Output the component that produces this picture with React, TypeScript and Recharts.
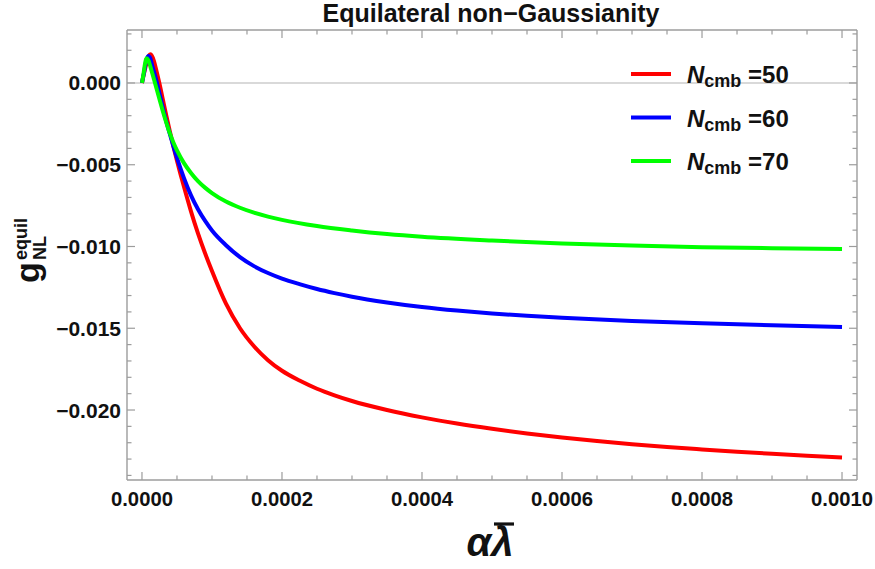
import React from "react";
import { LineChart, Line, XAxis, YAxis, ReferenceLine, Legend } from "recharts";

// axis ticks
const xMajorTicks = [0, 0.0002, 0.0004, 0.0006, 0.0008, 0.001];
const xTickLabels = ["0.0000", "0.0002", "0.0004", "0.0006", "0.0008", "0.0010"];
const yMajorTicks = [0, -0.005, -0.01, -0.015, -0.02];
const yTickLabels = ["0.000", "\u22120.005", "\u22120.010", "\u22120.015", "\u22120.020"];

// series: N_cmb = 50, 60, 70
const nCmbValues = [50, 60, 70];
const seriesColors = ["#ff0000", "#0000ff", "#00ff00"];

const redX = [
  0, 0.000003, 0.000007, 0.00001, 0.0000124, 0.000017, 0.00002, 0.000025, 0.00003, 0.000035, 0.00004,
  0.000045, 0.00005, 0.00006, 0.00007, 0.00008, 0.00009, 0.0001, 0.00012, 0.00014, 0.00016, 0.00018,
  0.0002, 0.000225, 0.00025, 0.000275, 0.0003, 0.00035, 0.0004, 0.00045, 0.0005, 0.00055, 0.0006,
  0.00065, 0.0007, 0.00075, 0.0008, 0.00085, 0.0009, 0.00095, 0.001,
];
const redY = [
  0, 0.0006, 0.0013, 0.00168, 0.00175, 0.00135, 0.00085, -0.00005, -0.00105, -0.00205, -0.003,
  -0.0039, -0.00475, -0.00635, -0.00785, -0.0092, -0.0104, -0.0115, -0.0135, -0.015, -0.0161, -0.01695,
  -0.0176, -0.0182, -0.0187, -0.0191, -0.01945, -0.02, -0.02045, -0.02083, -0.02115, -0.02143, -0.02168,
  -0.0219, -0.02209, -0.02226, -0.02241, -0.02255, -0.02268, -0.0228, -0.0229,
];

const blueX = [
  0, 0.000003, 0.000006, 0.000009, 0.000012, 0.000015, 0.00002, 0.000025, 0.00003, 0.000035, 0.00004,
  0.000045, 0.00005, 0.00006, 0.00007, 0.00008, 0.00009, 0.0001, 0.00012, 0.00014, 0.00016, 0.00018,
  0.0002, 0.000225, 0.00025, 0.000275, 0.0003, 0.00035, 0.0004, 0.00045, 0.0005, 0.00055, 0.0006,
  0.0007, 0.0008, 0.0009, 0.001,
];
const blueY = [
  0, 0.00065, 0.00135, 0.00165, 0.0015, 0.001, 0.00025, -0.00065, -0.00155, -0.0024, -0.00315,
  -0.00388, -0.00458, -0.00582, -0.00687, -0.00772, -0.00842, -0.00902, -0.00992, -0.01065, -0.0112, -0.01162,
  -0.01196, -0.0123, -0.0126, -0.01285, -0.01307, -0.01342, -0.0137, -0.01392, -0.0141, -0.01424, -0.01436,
  -0.01455, -0.0147, -0.01482, -0.01492,
];

const greenX = [
  0, 0.000002, 0.000004, 0.0000067, 0.000009, 0.000012, 0.000015, 0.0000186, 0.000025, 0.00003,
  0.000035, 0.00004, 0.000045, 0.00005, 0.00006, 0.00007, 0.00008, 0.00009, 0.0001, 0.00012, 0.00014,
  0.00016, 0.00018, 0.0002, 0.00025, 0.0003, 0.00035, 0.0004, 0.0005, 0.0006, 0.0007, 0.0008, 0.0009,
  0.001,
];
const greenY = [
  0, 0.0005, 0.0011, 0.00152, 0.0014, 0.001, 0.00055, 0, -0.001, -0.00175,
  -0.00245, -0.0031, -0.00365, -0.00412, -0.0049, -0.0055, -0.006, -0.0064, -0.00673, -0.00725, -0.00763,
  -0.00793, -0.00817, -0.00837, -0.00875, -0.00902, -0.00924, -0.00941, -0.00964, -0.00981, -0.00994, -0.01004, -0.0101,
  -0.01015,
];

const toPoints = (xs: number[], ys: number[]) => xs.map((x, i) => ({ x, y: ys[i] }));
const series = [
  { data: toPoints(redX, redY) },
  { data: toPoints(blueX, blueY) },
  { data: toPoints(greenX, greenY) },
];

const X_DOMAIN: [number, number] = [-0.0000214, 0.0010214];
const Y_DOMAIN: [number, number] = [-0.02428, 0.00324];
const xAllTicks = Array.from({ length: 21 }, (_, i) => i * 0.00005);
const yAllTicks = Array.from({ length: 28 }, (_, i) => (3 - i) / 1000);

const FRAME = "#9c9c9c";
const FONT = "'Liberation Sans', Arial, sans-serif";
const majorIndex = (v: number, list: number[]) => list.findIndex((m) => Math.abs(m - v) < 1e-10);

const BottomTick = ({ x, y, payload }: any) => {
  const i = majorIndex(payload.value, xMajorTicks);
  return (
    <g>
      <line x1={x} x2={x} y1={y} y2={y - (i >= 0 ? 8 : 4.5)} stroke={FRAME} strokeWidth={1.2} />
      {i >= 0 && (
        <text x={x} y={y + 25.5} textAnchor="middle" fontFamily={FONT} fontWeight="bold" fontSize={21} textLength={62} lengthAdjust="spacingAndGlyphs" fill="#111">
          {xTickLabels[i]}
        </text>
      )}
    </g>
  );
};

const TopTick = ({ x, y, payload }: any) => {
  const i = majorIndex(payload.value, xMajorTicks);
  return <line x1={x} x2={x} y1={y} y2={y + (i >= 0 ? 8 : 4.5)} stroke={FRAME} strokeWidth={1.2} />;
};

const LeftTick = ({ x, y, payload }: any) => {
  const i = majorIndex(payload.value, yMajorTicks);
  return (
    <g>
      <line x1={x} x2={x + (i >= 0 ? 8 : 4.5)} y1={y} y2={y} stroke={FRAME} strokeWidth={1.2} />
      {i >= 0 && (
        <text x={x - 6} y={y + 7.5} textAnchor="end" fontFamily={FONT} fontWeight="bold" fontSize={21} fill="#111">
          {yTickLabels[i]}
        </text>
      )}
    </g>
  );
};

const RightTick = ({ x, y, payload }: any) => {
  const i = majorIndex(payload.value, yMajorTicks);
  return <line x1={x} x2={x - (i >= 0 ? 8 : 4.5)} y1={y} y2={y} stroke={FRAME} strokeWidth={1.2} />;
};

const LegendBox = () => (
  <svg width={200} height={130}>
    {nCmbValues.map((n, i) => {
      const cy = 24 + i * 43.5;
      return (
        <g key={n}>
          <line x1={6} x2={46} y1={cy} y2={cy} stroke={seriesColors[i]} strokeWidth={4} />
          <text x={62} y={cy + 9} fontFamily={FONT} fontWeight="bold" fontSize={24} fill="#111">
            <tspan fontStyle="italic">N</tspan>
            <tspan fontSize={18} dy={4}>cmb</tspan>
            <tspan dy={-4}> =</tspan>
            <tspan>{n}</tspan>
          </text>
        </g>
      );
    })}
  </svg>
);

export default function App() {
  return (
    <div style={{ position: "absolute", left: 0, top: 0, width: 875, height: 569, background: "#fff" }}>
      <LineChart width={875} height={569} margin={{ top: 29, right: 17, bottom: 88, left: 126 }}>
        <XAxis
          dataKey="x"
          type="number"
          domain={X_DOMAIN}
          allowDataOverflow
          ticks={xAllTicks}
          interval={0}
          height={1}
          tickSize={0}
          tickMargin={0}
          axisLine={{ stroke: FRAME, strokeWidth: 1.4 }}
          tick={(p: any) => <BottomTick {...p} />}
        />
        <XAxis
          xAxisId="top"
          orientation="top"
          dataKey="x"
          type="number"
          domain={X_DOMAIN}
          allowDataOverflow
          ticks={xAllTicks}
          interval={0}
          height={1}
          tickSize={0}
          tickMargin={0}
          axisLine={{ stroke: FRAME, strokeWidth: 1.4 }}
          tick={(p: any) => <TopTick {...p} />}
        />
        <YAxis
          type="number"
          domain={Y_DOMAIN}
          allowDataOverflow
          ticks={yAllTicks}
          interval={0}
          width={1}
          tickSize={0}
          tickMargin={0}
          axisLine={{ stroke: FRAME, strokeWidth: 1.4 }}
          tick={(p: any) => <LeftTick {...p} />}
        />
        <YAxis
          yAxisId="right"
          orientation="right"
          type="number"
          domain={Y_DOMAIN}
          allowDataOverflow
          ticks={yAllTicks}
          interval={0}
          width={1}
          tickSize={0}
          tickMargin={0}
          axisLine={{ stroke: FRAME, strokeWidth: 1.4 }}
          tick={(p: any) => <RightTick {...p} />}
        />
        <ReferenceLine y={0} stroke="#cccccc" strokeWidth={1.6} />
        {series.map((s, i) => (
          <Line
            key={nCmbValues[i]}
            data={s.data}
            dataKey="y"
            name={`N_cmb = ${nCmbValues[i]}`}
            type="monotone"
            stroke={seriesColors[i]}
            strokeWidth={4}
            dot={false}
            activeDot={false}
            isAnimationActive={false}
          />
        ))}
        <Legend
          layout="horizontal"
          verticalAlign="middle"
          align="center"
          wrapperStyle={{ left: 625, top: 50, width: 200, height: 130 }}
          content={() => <LegendBox />}
        />
      </LineChart>
      <svg
        width={875}
        height={569}
        style={{ position: "absolute", left: 0, top: 0, pointerEvents: "none" }}
      >
        <text x={491} y={22} textAnchor="middle" fontFamily={FONT} fontWeight="bold" fontSize={25} fill="#111">
          Equilateral non{"\u2212"}Gaussianity
        </text>
        <text x={490} y={556} textAnchor="middle" fontFamily={FONT} fontWeight="bold" fontStyle="italic" fontSize={40} fill="#111">
          {"\u03b1\u03bb"}
        </text>
        <line x1={494} x2={514} y1={524} y2={524} stroke="#111" strokeWidth={3.2} />
        <g transform="translate(39, 283) rotate(-90)">
          <text x={0} y={0} fontFamily={FONT} fontWeight="bold" fontSize={34} fill="#111">g</text>
          <text x={23} y={-12} fontFamily={FONT} fontWeight="bold" fontSize={18} fill="#111">equil</text>
          <text x={23} y={7} fontFamily={FONT} fontWeight="bold" fontSize={18} fill="#111">NL</text>
        </g>
      </svg>
    </div>
  );
}
